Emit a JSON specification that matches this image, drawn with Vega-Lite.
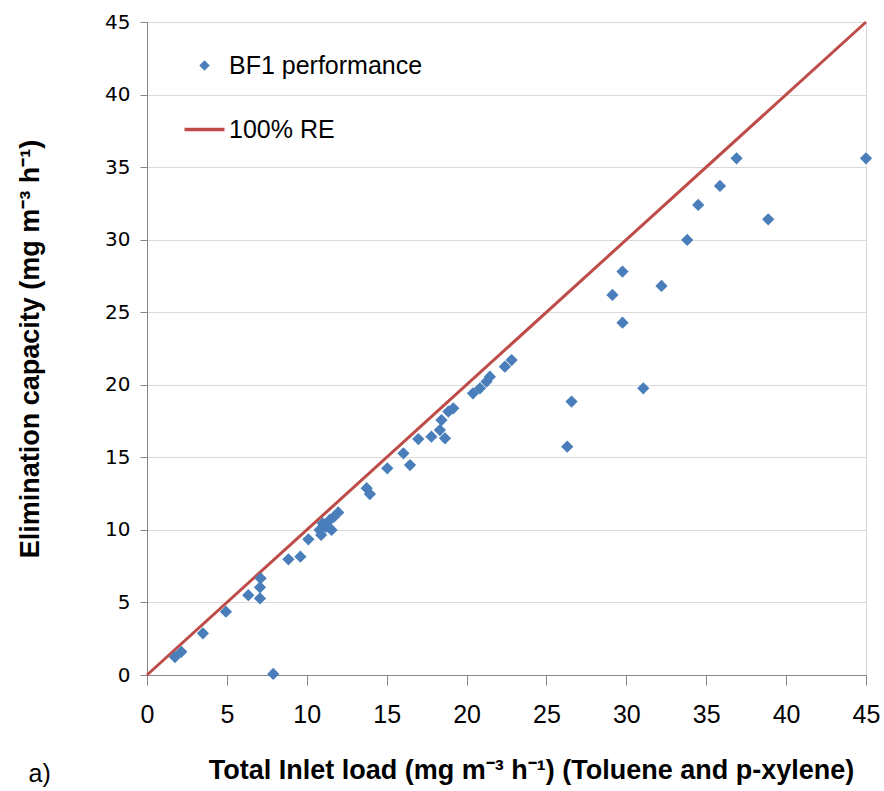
{
  "$schema": "https://vega.github.io/schema/vega-lite/v6.json",
  "autosize": "none",
  "width": 719,
  "height": 653,
  "padding": {"left": 147, "top": 22, "right": 18, "bottom": 116},
  "background": "white",
  "config": {"view": {"stroke": "#d9d9d9", "strokeWidth": 1}},
  "title": {"text": "a)", "orient": "bottom", "anchor": "start", "frame": "bounds", "font": "Liberation Sans", "fontSize": 25, "fontWeight": "normal", "color": "#000", "offset": -21, "dx": 12},
  "datasets": {
    "pts": [
      {"load": 1.75, "ec": 1.24, "series": "BF1 performance"},
      {"load": 2.15, "ec": 1.6, "series": "BF1 performance"},
      {"load": 3.5, "ec": 2.87, "series": "BF1 performance"},
      {"load": 4.94, "ec": 4.36, "series": "BF1 performance"},
      {"load": 6.34, "ec": 5.5, "series": "BF1 performance"},
      {"load": 7.07, "ec": 5.28, "series": "BF1 performance"},
      {"load": 7.07, "ec": 6.04, "series": "BF1 performance"},
      {"load": 7.11, "ec": 6.66, "series": "BF1 performance"},
      {"load": 7.9, "ec": 0.07, "series": "BF1 performance"},
      {"load": 8.85, "ec": 7.97, "series": "BF1 performance"},
      {"load": 9.6, "ec": 8.15, "series": "BF1 performance"},
      {"load": 10.1, "ec": 9.35, "series": "BF1 performance"},
      {"load": 10.9, "ec": 9.65, "series": "BF1 performance"},
      {"load": 10.8, "ec": 10.0, "series": "BF1 performance"},
      {"load": 11.2, "ec": 10.2, "series": "BF1 performance"},
      {"load": 11.0, "ec": 10.45, "series": "BF1 performance"},
      {"load": 11.45, "ec": 10.7, "series": "BF1 performance"},
      {"load": 11.55, "ec": 10.0, "series": "BF1 performance"},
      {"load": 11.97, "ec": 11.2, "series": "BF1 performance"},
      {"load": 11.7, "ec": 10.9, "series": "BF1 performance"},
      {"load": 13.75, "ec": 12.87, "series": "BF1 performance"},
      {"load": 13.95, "ec": 12.47, "series": "BF1 performance"},
      {"load": 15.04, "ec": 14.24, "series": "BF1 performance"},
      {"load": 16.05, "ec": 15.28, "series": "BF1 performance"},
      {"load": 16.46, "ec": 14.47, "series": "BF1 performance"},
      {"load": 16.98, "ec": 16.26, "series": "BF1 performance"},
      {"load": 17.8, "ec": 16.42, "series": "BF1 performance"},
      {"load": 18.33, "ec": 16.88, "series": "BF1 performance"},
      {"load": 18.65, "ec": 16.31, "series": "BF1 performance"},
      {"load": 18.43, "ec": 17.57, "series": "BF1 performance"},
      {"load": 18.86, "ec": 18.15, "series": "BF1 performance"},
      {"load": 19.17, "ec": 18.38, "series": "BF1 performance"},
      {"load": 20.4, "ec": 19.41, "series": "BF1 performance"},
      {"load": 20.84, "ec": 19.76, "series": "BF1 performance"},
      {"load": 21.25, "ec": 20.22, "series": "BF1 performance"},
      {"load": 21.46, "ec": 20.56, "series": "BF1 performance"},
      {"load": 22.4, "ec": 21.25, "series": "BF1 performance"},
      {"load": 22.82, "ec": 21.7, "series": "BF1 performance"},
      {"load": 26.3, "ec": 15.73, "series": "BF1 performance"},
      {"load": 26.57, "ec": 18.84, "series": "BF1 performance"},
      {"load": 29.13, "ec": 26.19, "series": "BF1 performance"},
      {"load": 29.76, "ec": 27.8, "series": "BF1 performance"},
      {"load": 29.76, "ec": 24.28, "series": "BF1 performance"},
      {"load": 31.06, "ec": 19.76, "series": "BF1 performance"},
      {"load": 32.2, "ec": 26.81, "series": "BF1 performance"},
      {"load": 33.81, "ec": 29.98, "series": "BF1 performance"},
      {"load": 34.5, "ec": 32.39, "series": "BF1 performance"},
      {"load": 35.86, "ec": 33.7, "series": "BF1 performance"},
      {"load": 36.9, "ec": 35.61, "series": "BF1 performance"},
      {"load": 38.88, "ec": 31.4, "series": "BF1 performance"},
      {"load": 45.0, "ec": 35.61, "series": "BF1 performance"}
    ],
    "re": [
      {"load": 0, "ec": 0, "series": "100% RE"},
      {"load": 45, "ec": 45, "series": "100% RE"}
    ]
  },
  "encoding": {
    "x": {
      "field": "load", "type": "quantitative",
      "scale": {"domain": [0, 45], "nice": false, "zero": true},
      "axis": {
        "title": "Total Inlet load (mg m⁻³ h⁻¹) (Toluene and p-xylene)",
        "values": [0, 5, 10, 15, 20, 25, 30, 35, 40, 45],
        "grid": false, "labelFlush": false,
        "domainColor": "#868686", "tickColor": "#868686", "tickSize": 10,
        "labelFont": "Liberation Sans", "labelFontSize": 25, "labelColor": "#000", "labelPadding": 17,
        "titleFont": "Liberation Sans", "titleFontSize": 27, "titleFontWeight": "bold", "titleColor": "#000",
        "titlePadding": 30, "titleX": 384
      }
    },
    "y": {
      "field": "ec", "type": "quantitative",
      "scale": {"domain": [0, 45], "nice": false, "zero": true},
      "axis": {
        "title": "Elimination capacity (mg m⁻³ h⁻¹)",
        "values": [0, 5, 10, 15, 20, 25, 30, 35, 40, 45],
        "grid": true, "gridColor": "#d9d9d9",
        "domainColor": "#868686", "tickColor": "#868686", "tickSize": 7,
        "labelFont": "DejaVu Sans", "labelFontSize": 20, "labelColor": "#000", "labelPadding": 10,
        "titleFont": "Liberation Sans", "titleFontSize": 27, "titleFontWeight": "bold", "titleColor": "#000",
        "titlePadding": 60
      }
    },
    "color": {
      "field": "series", "type": "nominal",
      "scale": {"domain": ["BF1 performance", "100% RE"], "range": ["#4a7ebb", "#be4b48"]},
      "legend": {
        "title": null,
        "orient": "none", "legendX": 45, "legendY": 31,
        "labelFont": "Liberation Sans", "labelFontSize": 25, "labelColor": "#000", "labelLimit": 0,
        "labelOffset": 12, "rowPadding": 38,
        "symbolSize": 1600,
        "encode": {
          "symbols": {
            "update": {
              "shape": {"signal": "datum.value === '100% RE' ? 'stroke' : 'diamond'"},
              "size": {"signal": "datum.value === '100% RE' ? 1600 : 110"},
              "fill": {"signal": "datum.value === '100% RE' ? 'transparent' : '#4a7ebb'"},
              "stroke": {"signal": "datum.value === '100% RE' ? '#be4b48' : '#4a7ebb'"},
              "strokeWidth": {"signal": "datum.value === '100% RE' ? 3.5 : 0"},
              "opacity": {"value": 1}
            }
          }
        }
      }
    }
  },
  "layer": [
    {
      "data": {"name": "re"},
      "mark": {"type": "line", "strokeWidth": 3, "clip": false}
    },
    {
      "data": {"name": "pts"},
      "mark": {"type": "point", "shape": "diamond", "filled": true, "size": 150, "opacity": 1, "clip": false}
    }
  ]
}
